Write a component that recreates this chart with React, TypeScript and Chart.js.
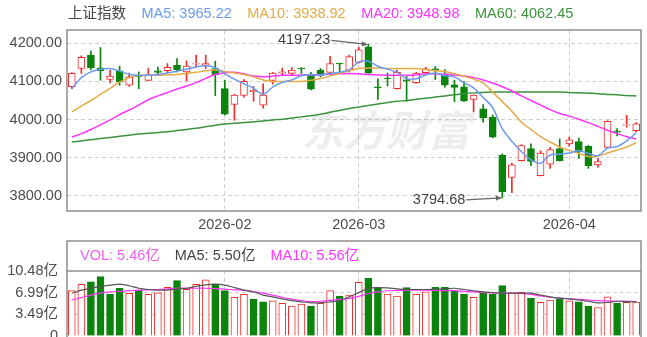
import React, { useEffect, useRef } from 'react';
import { Chart, registerables } from 'chart.js';
Chart.register(...registerables);

const dates = [
  '2026-01-09','2026-01-12','2026-01-13','2026-01-14','2026-01-15','2026-01-16','2026-01-19','2026-01-20','2026-01-21','2026-01-22','2026-01-23','2026-01-26','2026-01-27','2026-01-28','2026-01-29','2026-01-30',
  '2026-02-02','2026-02-03','2026-02-04','2026-02-05','2026-02-06','2026-02-09','2026-02-10','2026-02-11','2026-02-12','2026-02-13','2026-02-24','2026-02-25','2026-02-26','2026-02-27',
  '2026-03-02','2026-03-03','2026-03-04','2026-03-05','2026-03-06','2026-03-09','2026-03-10','2026-03-11','2026-03-12','2026-03-13','2026-03-16','2026-03-17','2026-03-18','2026-03-19','2026-03-20','2026-03-23','2026-03-24','2026-03-25','2026-03-26','2026-03-27','2026-03-30','2026-03-31',
  '2026-04-01','2026-04-02','2026-04-03','2026-04-07','2026-04-08','2026-04-09','2026-04-10','2026-04-13'
];

const openP = [4086,4134,4169,4136,4105,4128,4090,4116,4103,4128,4128,4143,4125,4145,4143,4134,
  4081,4040,4063,4073,4038,4103,4122,4121,4135,4116,4130,4124,4148,4129,
  4150,4191,4086,4109,4081,4104,4097,4123,4133,4117,4091,4086,4053,4028,4006,3907,3848,3892,3924,3853,3883,3924,
  3936,3942,3930,3881,3927,3970,3985,3971];
const highP = [4123,4167,4180,4189,4130,4140,4122,4125,4134,4138,4147,4160,4154,4169,4169,4153,
  4103,4066,4105,4087,4094,4124,4135,4136,4136,4124,4134,4166,4148,4169,
  4190,4197.23,4107,4122,4130,4113,4124,4137,4139,4131,4103,4100,4065,4039,4012,3910,3886,3934,3936,3918,3927,3949,
  3954,3951,3932,3898,3997,3976,4011,3992];
const lowP = [4081,4121,4130,4103,4096,4090,4087,4081,4102,4116,4122,4125,4101,4137,4134,4063,
  4012,3998,4059,4048,4030,4093,4117,4117,4121,4078,4112,4122,4124,4125,
  4148,4119,4053,4088,4080,4048,4095,4117,4105,4085,4047,4047,4020,3993,3952,3794.68,3808,3891,3879,3852,3872,3891,
  3930,3898,3872,3875,3925,3957,3980,3968];
const closeP = [4121,4163,4136,4128,4114,4099,4112,4113,4116,4124,4137,4130,4140,4147,4147,4117,
  4014,4064,4100,4077,4064,4122,4125,4130,4133,4080,4116,4147,4146,4165,
  4183,4122,4083,4107,4124,4101,4122,4133,4130,4090,4084,4049,4064,4004,3954,3811,3881,3932,3890,3912,3921,3892,
  3947,3916,3879,3890,3995,3967,3987,3989];

const ma5 = [4081,4110,4125,4132,4134,4127,4119,4116,4116,4118,4122,4127,4132,4138,4141,4136,
  4120,4106,4094,4082,4066,4085,4098,4104,4115,4118,4117,4121,4124,4131,
  4151,4153,4140,4132,4124,4107,4107,4117,4122,4115,4112,4097,4083,4058,4031,3976,3943,3916,3894,3885,3907,3909,
  3912,3918,3911,3905,3925,3929,3944,3965];
const ma10 = [4020,4035,4050,4066,4082,4098,4110,4116,4116,4116,4117,4118,4121,4124,4128,4130,
  4126,4122,4118,4112,4104,4100,4100,4100,4100,4103,4108,4114,4121,4128,
  4134,4135,4135,4134,4134,4134,4134,4131,4128,4126,4120,4114,4106,4096,4072,4047,4022,3993,3974,3955,3941,3928,
  3919,3911,3903,3904,3912,3920,3928,3939];
const ma20 = [3954,3963,3974,3986,3999,4013,4025,4038,4052,4062,4071,4080,4088,4097,4108,4118,
  4123,4124,4120,4114,4112,4114,4116,4116,4117,4117,4118,4119,4120,4121,
  4120,4118,4117,4116,4116,4116,4117,4120,4120,4119,4117,4114,4110,4104,4096,4086,4075,4062,4050,4038,4026,4016,
  4009,4001,3992,3982,3972,3963,3955,3949];
const ma60 = [3941,3944,3947,3950,3953,3956,3959,3962,3964,3966,3968,3971,3974,3977,3981,3985,
  3988,3990,3992,3994,3996,3999,4001,4004,4007,4010,4014,4019,4024,4029,
  4033,4037,4041,4045,4048,4050,4053,4056,4059,4062,4065,4068,4070,4071,4072,4072,4072,4072,4072,4072,4072,4072,
  4071,4070,4069,4068,4066,4065,4063,4062];

const volume = [7.31,8.35,8.72,9.59,6.77,7.70,6.88,7.42,6.72,6.98,7.86,8.93,7.53,8.35,9.05,8.35,
  7.31,6.23,6.72,5.91,5.52,5.68,5.25,4.82,5.14,4.82,5.25,7.31,6.44,6.60,
  8.67,9.32,7.70,6.77,6.44,7.80,6.72,7.14,7.86,7.86,7.26,6.72,6.23,6.88,6.72,8.12,6.88,7.05,6.07,5.42,5.79,5.96,
  5.68,5.52,4.82,4.60,6.33,5.25,5.42,5.46];
const volumeUp = [1,1,0,0,0,0,1,0,1,1,1,0,1,1,1,0,
  0,1,1,0,0,1,1,1,1,0,1,1,0,1,
  1,0,0,1,1,0,1,1,0,0,0,0,1,0,0,0,1,1,0,1,1,0,
  1,0,0,1,1,0,1,1];
const volMa5 = [6.9,7.4,7.7,8.0,8.2,8.35,8.1,7.7,7.5,7.4,7.4,7.6,7.7,8.0,8.25,8.35,
  8.2,7.8,7.4,7.1,6.6,6.3,6.0,5.7,5.5,5.35,5.35,5.5,5.7,6.3,
  7.0,7.7,7.8,7.75,7.6,7.5,7.5,7.5,7.55,7.6,7.7,7.5,7.3,7.1,7.0,6.9,6.9,6.9,6.9,6.6,6.3,6.1,
  6.0,5.8,5.6,5.35,5.4,5.6,5.55,5.5];
const volMa10 = [5.8,6.2,6.6,6.9,7.1,7.2,7.3,7.4,7.45,7.5,7.6,7.7,7.7,7.7,7.7,7.65,
  7.55,7.45,7.35,7.15,6.9,6.6,6.25,5.95,5.7,5.55,5.6,5.75,5.9,6.05,
  6.4,6.85,7.1,7.3,7.35,7.4,7.4,7.4,7.35,7.3,7.3,7.2,7.1,7.0,6.95,6.9,6.9,6.85,6.7,6.45,6.25,6.1,
  6.0,5.9,5.8,5.7,5.65,5.6,5.58,5.56];

const priceTicks = [3800, 3900, 4000, 4100, 4200];
const volTicks = [0, 3.49, 6.99, 10.48];
const indexName = '上证指数';
const maLegendNames = ['MA5', 'MA10', 'MA20', 'MA60'];
const maLegendValues = ['3965.22', '3938.92', '3948.98', '4062.45'];
const volLegendNames = ['VOL', 'MA5', 'MA10'];
const volLegendValues = ['5.46亿', '5.50亿', '5.56亿'];

const FONT = '"Liberation Sans", Arial, "Noto Sans CJK SC", sans-serif';
const FS = 14.5;
const RED = '#f02b2b';
const GREEN = '#0a840a';
const GRID = '#cfcfcf';
const BOX = '#8f8f8f';
const TXT = '#4d4d4d';
const MA_COLORS = ['#6b9bef', '#e5aa45', '#ff33ff', '#3d933d'];
const VOL_COLORS = ['#f060f0', '#444444', '#ff33ff'];
const VOL_LINE = ['#555555', '#ff33ff'];

const monthStart = (i: number) => i > 0 && dates[i].slice(0, 7) !== dates[i - 1].slice(0, 7);

function drawItems(ctx: CanvasRenderingContext2D, items: [string, string][], x: number, y: number, gap: number) {
  ctx.font = `${FS}px ${FONT}`;
  ctx.textBaseline = 'middle';
  ctx.textAlign = 'left';
  let cx = x;
  for (const [t, c] of items) {
    ctx.fillStyle = c;
    ctx.fillText(t, cx, y);
    cx += ctx.measureText(t).width + gap;
  }
}

function arrow(ctx: CanvasRenderingContext2D, x0: number, y0: number, x1: number, y1: number) {
  ctx.strokeStyle = '#666';
  ctx.fillStyle = '#666';
  ctx.lineWidth = 1.2;
  ctx.beginPath();
  ctx.moveTo(x0, y0);
  ctx.lineTo(x1, y1);
  ctx.stroke();
  const a = Math.atan2(y1 - y0, x1 - x0);
  ctx.beginPath();
  ctx.moveTo(x1, y1);
  ctx.lineTo(x1 - 6 * Math.cos(a - 0.45), y1 - 6 * Math.sin(a - 0.45));
  ctx.lineTo(x1 - 6 * Math.cos(a + 0.45), y1 - 6 * Math.sin(a + 0.45));
  ctx.closePath();
  ctx.fill();
}

const mainPlugin = {
  id: 'mainDecor',
  beforeDatasetsDraw(chart: any) {
    const ctx = chart.ctx;
    ctx.save();
    ctx.font = `italic bold 42px "Noto Sans CJK SC", sans-serif`;
    ctx.fillStyle = 'rgba(0,0,0,0.07)';
    ctx.textBaseline = 'middle';
    ctx.textAlign = 'left';
    ctx.fillText('东方财富', 302, 130);
    ctx.restore();
  },
  afterDatasetsDraw(chart: any) {
    const ctx = chart.ctx;
    const { left, top, right, bottom } = chart.chartArea;
    const xs = chart.scales.x, ys = chart.scales.y;
    ctx.save();
    let hi = 0, lo = 0;
    for (let i = 0; i < highP.length; i++) {
      if (highP[i] > highP[hi]) hi = i;
      if (lowP[i] < lowP[lo]) lo = i;
    }
    ctx.font = `${FS}px ${FONT}`;
    ctx.textBaseline = 'middle';
    ctx.textAlign = 'right';
    const hx = xs.getPixelForValue(hi), hy = ys.getPixelForValue(highP[hi]);
    ctx.fillStyle = '#444';
    ctx.fillText(highP[hi].toFixed(2), hx - 38, hy - 4);
    arrow(ctx, hx - 37, hy - 4, hx - 1, hy);
    const lx = xs.getPixelForValue(lo), ly = ys.getPixelForValue(lowP[lo]);
    ctx.fillStyle = '#444';
    ctx.fillText(lowP[lo].toFixed(2), lx - 37, ly + 2);
    arrow(ctx, lx - 36, ly + 2, lx - 1, ly);
    ctx.strokeStyle = BOX;
    ctx.lineWidth = 1.5;
    ctx.strokeRect(left, top, right - left, bottom - top);
    const items: [string, string][] = [[indexName, '#444']];
    maLegendNames.forEach((n, i) => items.push([`${n}: ${maLegendValues[i]}`, MA_COLORS[i]]));
    drawItems(ctx, items, 68, 14, 15.5);
    ctx.restore();
  },
};

const volPlugin = {
  id: 'volDecor',
  afterDatasetsDraw(chart: any) {
    const ctx = chart.ctx;
    const { left, top, right } = chart.chartArea;
    const h = chart.height;
    ctx.save();
    ctx.strokeStyle = BOX;
    ctx.lineWidth = 1.5;
    ctx.strokeRect(left, 9, right - left, top - 9);
    ctx.beginPath();
    ctx.moveTo(left, top);
    ctx.lineTo(left, h + 2);
    ctx.moveTo(right, top);
    ctx.lineTo(right, h + 2);
    ctx.stroke();
    const items: [string, string][] = volLegendNames.map((n, i) => [`${n}: ${volLegendValues[i]}`, VOL_COLORS[i]] as [string, string]);
    drawItems(ctx, items, 80, 24, 15);
    ctx.restore();
  },
};

const xGrid = {
  offset: false,
  drawTicks: false,
  color: (c: any) => (monthStart(c.index) ? GRID : 'rgba(0,0,0,0)'),
};

export default function App() {
  const refA = useRef<HTMLCanvasElement>(null);
  const refB = useRef<HTMLCanvasElement>(null);

  useEffect(() => {
    const up = (i: number) => closeP[i] >= openP[i];
    const lineDs = (data: number[], color: string, w: number) => ({
      type: 'line' as const,
      data,
      borderColor: color,
      borderWidth: w,
      pointRadius: 0,
      tension: 0.3,
      fill: false,
      order: 0,
    });
    const chartA = new Chart(refA.current!, {
      type: 'bar',
      data: {
        labels: dates,
        datasets: [
          lineDs(ma5, MA_COLORS[0], 1.5),
          lineDs(ma10, MA_COLORS[1], 1.5),
          lineDs(ma20, MA_COLORS[2], 1.5),
          lineDs(ma60, MA_COLORS[3], 1.5),
          {
            type: 'bar',
            data: dates.map((_, i) => [openP[i], closeP[i]]),
            backgroundColor: (c: any) => (up(c.dataIndex) ? '#ffffff' : GREEN),
            borderColor: (c: any) => (up(c.dataIndex) ? RED : GREEN),
            borderWidth: 1,
            borderSkipped: false,
            barThickness: 7,
            grouped: false,
            order: 1,
          },
          {
            type: 'bar',
            data: dates.map((_, i) => [lowP[i], highP[i]]),
            backgroundColor: (c: any) => (up(c.dataIndex) ? RED : GREEN),
            borderWidth: 0,
            barThickness: 1,
            grouped: false,
            order: 2,
          },
        ] as any,
      },
      options: {
        animation: false,
        responsive: false,
        maintainAspectRatio: false,
        layout: { padding: { left: 0, right: 6, top: 30, bottom: 0 } },
        plugins: { legend: { display: false }, tooltip: { enabled: false } },
        scales: {
          x: {
            offset: true,
            grid: xGrid as any,
            border: { display: false, dash: [4, 3] },
            ticks: {
              autoSkip: false,
              maxRotation: 0,
              padding: 5,
              color: TXT,
              font: { family: FONT, size: FS },
              callback: (_v: any, i: number) => (monthStart(i) ? dates[i].slice(0, 7) : ''),
            },
            afterFit: (s: any) => { s.height = 21; },
          },
          y: {
            min: 3760,
            max: 4235,
            afterBuildTicks: (s: any) => { s.ticks = priceTicks.map((v) => ({ value: v })); },
            afterFit: (s: any) => { s.width = 67; },
            grid: { color: GRID, drawTicks: false },
            border: { display: false, dash: [4, 3] },
            ticks: {
              padding: 5,
              color: TXT,
              font: { family: FONT, size: FS },
              callback: (v: any) => Number(v).toFixed(2),
            },
          },
        },
      },
      plugins: [mainPlugin],
    });

    const chartB = new Chart(refB.current!, {
      type: 'bar',
      data: {
        labels: dates,
        datasets: [
          lineDs(volMa5, VOL_LINE[0], 1.2),
          lineDs(volMa10, VOL_LINE[1], 1.2),
          {
            type: 'bar',
            data: volume,
            backgroundColor: (c: any) => (volumeUp[c.dataIndex] ? '#ffffff' : GREEN),
            borderColor: (c: any) => (volumeUp[c.dataIndex] ? RED : GREEN),
            borderWidth: 1,
            barThickness: 7,
            grouped: false,
            order: 1,
          },
        ] as any,
      },
      options: {
        animation: false,
        responsive: false,
        maintainAspectRatio: false,
        layout: { padding: { left: 0, right: 6, top: 39, bottom: 21 } },
        plugins: { legend: { display: false }, tooltip: { enabled: false } },
        scales: {
          x: {
            offset: true,
            grid: xGrid as any,
            border: { display: false, dash: [4, 3] },
            ticks: { display: false },
            afterFit: (s: any) => { s.height = 0; },
          },
          y: {
            min: 0,
            max: 10.48,
            afterBuildTicks: (s: any) => { s.ticks = volTicks.map((v) => ({ value: v })); },
            afterFit: (s: any) => { s.width = 67; },
            grid: {
              drawTicks: false,
              color: (c: any) => (c.tick && (c.tick.value === 0 || c.tick.value === 10.48) ? 'rgba(0,0,0,0)' : GRID),
            },
            border: { display: false, dash: [4, 3] },
            ticks: {
              padding: 9,
              color: TXT,
              font: { family: FONT, size: FS },
              callback: (v: any) => (Number(v) === 0 ? '0' : Number(v).toFixed(2) + '亿'),
            },
          },
        },
      },
      plugins: [volPlugin],
    });

    return () => {
      chartA.destroy();
      chartB.destroy();
    };
  }, []);

  return (
    <div style={{ position: 'absolute', left: 0, top: 0, width: 647, height: 337, background: '#fff', overflow: 'hidden' }}>
      <canvas ref={refA} width={647} height={232} style={{ position: 'absolute', left: 0, top: 0 }} />
      <canvas ref={refB} width={647} height={125} style={{ position: 'absolute', left: 0, top: 232 }} />
    </div>
  );
}
